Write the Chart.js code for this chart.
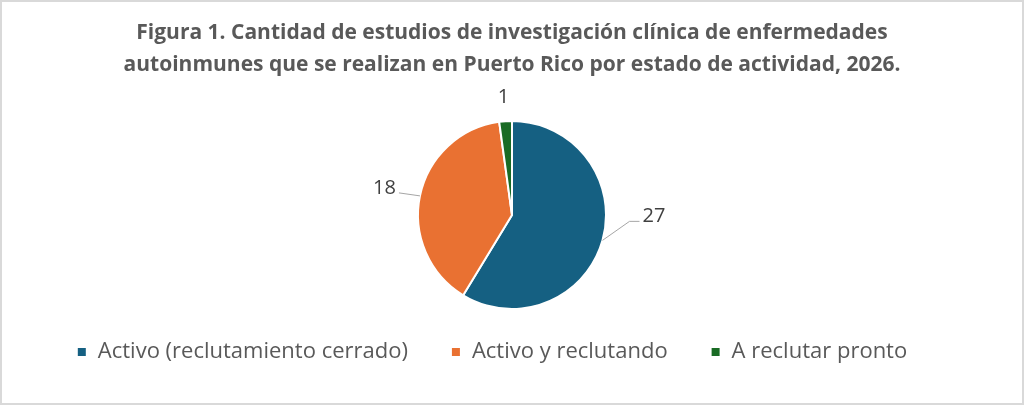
<!DOCTYPE html>
<html lang="es">
<head>
  <meta charset="UTF-8" />
  <title>Figura 1</title>
  <script src="https://cdn.jsdelivr.net/npm/chart.js"></script>
  <style>
    html, body { margin: 0; padding: 0; background: #fff; }
    #wrap { width: 1024px; height: 405px; position: relative; }
  </style>
</head>
<body>
  <div id="wrap"><canvas id="grafico"></canvas></div>

  <script>
    // datos
    const categorias = ['Activo (reclutamiento cerrado)', 'Activo y reclutando', 'A reclutar pronto'];
    const estudios = [27, 18, 1];
    const colores = ['#156082', '#E97132', '#196B24'];
    const titulo = [
      'Figura 1. Cantidad de estudios de investigación clínica de enfermedades',
      'autoinmunes que se realizan en Puerto Rico por estado de actividad, 2026.'
    ];

    // posición de cada etiqueta respecto al borde del sector (codo de la línea guía)
    const guias = [
      { dx: 27, dy: -19, tail: 10, align: 'left', line: true },
      { dx: -21, dy: -3, tail: 0, align: 'right', line: true },
      { dx: -2, dy: -19, tail: 0, align: 'center', line: false }
    ];

    const marco = {
      id: 'marco',
      beforeDraw(chart) {
        const ctx = chart.ctx;
        ctx.save();
        ctx.fillStyle = '#fff';
        ctx.fillRect(0, 0, chart.width, chart.height);
        ctx.strokeStyle = '#d9d9d9';
        ctx.lineWidth = 2;
        ctx.strokeRect(1, 1, chart.width - 2, chart.height - 2);
        ctx.restore();
      }
    };

    // la leyenda de Excel queda un poco más arriba y a la izquierda
    const ajusteLeyenda = {
      id: 'ajusteLeyenda',
      afterLayout(chart) {
        const lg = chart.legend;
        lg.top -= 12; lg.bottom -= 12;
        lg.left -= 20; lg.right -= 20;
      }
    };

    const etiquetas = {
      id: 'etiquetas',
      afterDatasetsDraw(chart) {
        const ctx = chart.ctx;
        const arcs = chart.getDatasetMeta(0).data;
        ctx.save();
        ctx.font = '20px "Open Sans", sans-serif';
        ctx.fillStyle = '#404040';
        ctx.strokeStyle = '#a6a6a6';
        ctx.lineWidth = 1;
        arcs.forEach((arc, i) => {
          const g = guias[i];
          const mid = (arc.startAngle + arc.endAngle) / 2;
          const x0 = arc.x + Math.cos(mid) * arc.outerRadius;
          const y0 = arc.y + Math.sin(mid) * arc.outerRadius;
          const x1 = x0 + g.dx;
          const y1 = y0 + g.dy;
          const x2 = x1 + (g.align === 'left' ? g.tail : -g.tail);
          if (g.line) {
            ctx.beginPath();
            ctx.moveTo(x0, y0);
            ctx.lineTo(x1, y1);
            ctx.lineTo(x2, y1);
            ctx.stroke();
          }
          ctx.textAlign = g.align;
          ctx.textBaseline = 'alphabetic';
          const tx = g.align === 'left' ? x2 + 3 : g.align === 'right' ? x2 - 3 : x2;
          ctx.fillText(String(estudios[i]), tx, y1 + 1);
        });
        ctx.restore();
      }
    };

    new Chart(document.getElementById('grafico'), {
      type: 'pie',
      data: {
        labels: categorias,
        datasets: [{
          data: estudios,
          backgroundColor: colores,
          borderColor: '#fff',
          borderWidth: 2
        }]
      },
      options: {
        responsive: true,
        maintainAspectRatio: false,
        animation: false,
        layout: { padding: { top: 0, bottom: 20, left: 0, right: 0 } },
        plugins: {
          tooltip: { enabled: false },
          title: {
            display: true,
            text: titulo,
            color: '#595959',
            font: { family: '"Open Sans", sans-serif', size: 21, weight: 'bold', lineHeight: 32 / 21 },
            padding: { top: 17.5, bottom: 38.5 }
          },
          legend: {
            position: 'bottom',
            labels: {
              color: '#595959',
              font: { family: '"Open Sans", sans-serif', size: 22 },
              usePointStyle: true,
              pointStyle: 'rect',
              boxWidth: 10,
              boxHeight: 10,
              padding: 43
            }
          }
        }
      },
      plugins: [marco, ajusteLeyenda, etiquetas]
    });
  </script>
</body>
</html>
